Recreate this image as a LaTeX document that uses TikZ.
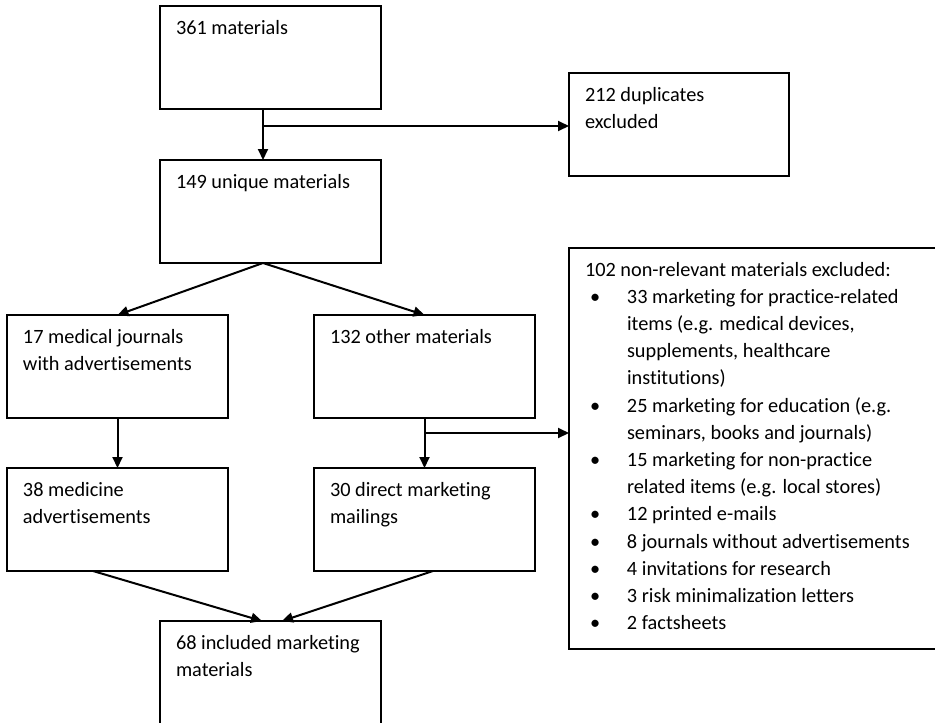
\documentclass[tikz,border=0pt]{standalone}
\usepackage{fontspec}
\setmainfont{Carlito}[Ligatures=NoCommon]
\usetikzlibrary{arrows.meta}
\newcommand{\boxtxt}[3]{\parbox[c][#1][t]{#2}{\rule{0pt}{28pt}#3}}
\newcommand{\bul}{\par\hangindent=42pt\hangafter=1\noindent\makebox[42pt][l]{\hspace{5pt}\textbullet}}
\tikzset{
  flowbox/.style={draw, line width=1.8pt, anchor=north west, inner xsep=16pt, inner ysep=0pt, outer sep=0pt, font=\fontsize{20.3}{27.2}\selectfont},
}
\begin{document}
\begin{tikzpicture}[>={Triangle[length=11pt,width=10pt]}, x=1pt, y=-1pt, line width=2pt]
\useasboundingbox (0,0) rectangle (935,723);
\node[flowbox] (raw) at (160,6) {\boxtxt{103pt}{189pt}{361 materials}};
\node[flowbox] (dup) at (569,73) {\boxtxt{103pt}{188pt}{212 duplicates\\excluded}};
\node[flowbox] (uniq) at (160,160) {\boxtxt{103pt}{189pt}{149 unique materials}};
\node[flowbox] (journals) at (7,315) {\boxtxt{103pt}{189pt}{17 medical journals\\with advertisements}};
\node[flowbox] (other) at (314,315) {\boxtxt{103pt}{189pt}{132 other materials}};
\node[flowbox] (ads) at (7,468) {\boxtxt{103pt}{189pt}{38 medicine\\advertisements}};
\node[flowbox] (mail) at (314,468) {\boxtxt{103pt}{189pt}{30 direct marketing\\mailings}};
\node[flowbox] (incl) at (160,621) {\boxtxt{106pt}{189pt}{68 included marketing\\materials}};
\node[flowbox] (excl) at (569,248) {\boxtxt{401pt}{348pt}{102 non-relevant materials excluded:
  \bul 33 marketing for practice-related\\items (e.g. medical devices,\\supplements, healthcare\\institutions)
  \bul 25 marketing for education (e.g.\\seminars, books and journals)
  \bul 15 marketing for non-practice\\related items (e.g. local stores)
  \bul 12 printed e-mails
  \bul 8 journals without advertisements
  \bul 4 invitations for research
  \bul 3 risk minimalization letters
  \bul 2 factsheets}};

\draw[->] ([xshift=-7.5pt]raw.south) -- ([xshift=-7.5pt]uniq.north);
\coordinate (dupfork) at ([xshift=-7.5pt,yshift=-17pt]raw.south);
\draw[->] (dupfork) -- (dupfork -| dup.west);
\draw[->] ([xshift=-7.5pt]uniq.south) -- (journals.north);
\draw[->] ([xshift=-7.5pt]uniq.south) -- (other.north);
\draw[->] (journals.south) -- (ads.north);
\draw[->] (other.south) -- (mail.north);
\coordinate (otherfork) at ([yshift=-15pt]other.south);
\draw[->] (otherfork) -- (otherfork -| excl.west);
\draw[->] ([xshift=-24.5pt]ads.south) -- ([xshift=-8.5pt]incl.north);
\draw[->] ([xshift=8.5pt]mail.south) -- ([xshift=11.5pt]incl.north);
\end{tikzpicture}
\end{document}
